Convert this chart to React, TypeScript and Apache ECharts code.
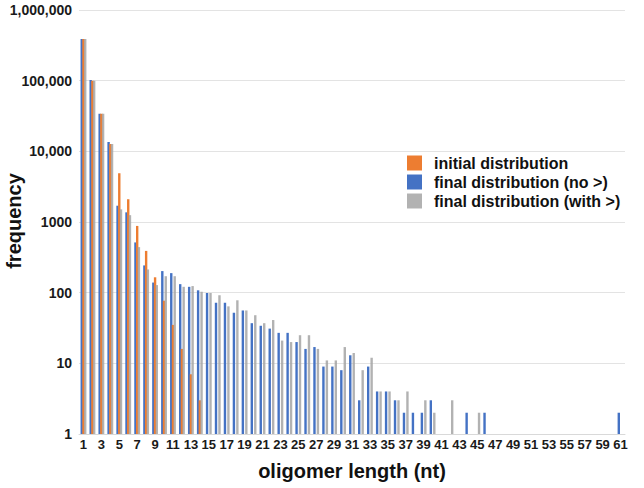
import React, { useEffect, useRef } from "react";
import * as echarts from "echarts";

const categories: string[] = Array.from({ length: 61 }, (_, i) => String(i + 1));

// values (null = no bar)
const initialDist: (number | null)[] = [
  390000, 100000, 34000, 12700, 4900, 2100, 880, 390, 165, 77,
  35, 16, 7, 3, null, null, null, null, null, null,
  null, null, null, null, null, null, null, null, null, null,
  null, null, null, null, null, null, null, null, null, null,
  null, null, null, null, null, null, null, null, null, null,
  null, null, null, null, null, null, null, null, null, null,
  null,
];

const finalNo: (number | null)[] = [
  390000, 102000, 34000, 13500, 1700, 1370, 514, 243, 139, 202,
  189, 132, 121, 108, 99, 72, 72, 52, 56, 37,
  34, 31, 27, 27, 20, 16, 17, 9, 9, 8,
  13, 3, 9, 4, 4, 3, 2, 2, 2, 3,
  null, null, null, 2, null, 2, null, null, null, null,
  null, null, null, null, null, null, null, null, null, null,
  2,
];

const finalWith: (number | null)[] = [
  390000, 100000, 34000, 12700, 1510, 1250, 441, 213, 128, 171,
  171, 121, 124, 103, 99, 92, 64, 78, 56, 48,
  37, 41, 21, 20, 25, 25, 16, 11, 11, 17,
  14, 8, 12, 4, 4, 3, 4, null, 3, 2,
  null, 3, null, null, 2, null, null, null, null, null,
  null, null, null, null, null, null, null, null, null, null,
  null,
];

const yTicks: number[] = [1, 10, 100, 1000, 10000, 100000, 1000000];

const FONT = "'Liberation Sans', Arial, Helvetica, sans-serif";

export default function App() {
  const ref = useRef<HTMLDivElement>(null);
  useEffect(() => {
    if (!ref.current) return;
    const chart = echarts.init(ref.current, null, { renderer: "svg" });
    const fmt = (v: number) => {
      const r = Math.round(v);
      if (r >= 10000) return r.toString().replace(/\B(?=(\d{3})+(?!\d))/g, ",");
      return String(r);
    };
    chart.setOption({
      animation: false,
      backgroundColor: "#ffffff",
      textStyle: { fontFamily: FONT },
      grid: { left: 79, right: 19, top: 10, bottom: 54, containLabel: false, outerBoundsMode: "none" },
      legend: {
        orient: "vertical",
        left: 407,
        top: 155,
        itemWidth: 15,
        itemHeight: 15,
        itemGap: 3,
        padding: 0,
        icon: "rect",
        data: ["initial distribution", "final distribution (no >)", "final distribution (with >)"],
        textStyle: { fontFamily: FONT, fontSize: 16, fontWeight: "bold", color: "#111", padding: [0, 0, 0, 7] },
      },
      graphic: [
        {
          type: "text",
          x: 14,
          y: 221,
          rotation: Math.PI / 2,
          style: {
            text: "frequency",
            font: `bold 20px ${FONT}`,
            fill: "#111",
            textAlign: "center",
            textVerticalAlign: "middle",
          },
        },
      ],
      xAxis: {
        type: "category",
        data: categories,
        name: "oligomer length (nt)",
        nameLocation: "middle",
        nameGap: 27,
        nameTextStyle: { fontFamily: FONT, fontSize: 20, fontWeight: "bold", color: "#111" },
        axisTick: { show: false },
        axisLine: { lineStyle: { color: "#d9d9d9", width: 1 } },
        axisLabel: { interval: 1, fontFamily: FONT, fontSize: 13, fontWeight: "bold", color: "#1a1a1a", margin: 4 },
      },
      yAxis: {
        type: "log",
        logBase: 10,
        min: yTicks[0],
        max: yTicks[yTicks.length - 1],
        axisLine: { show: false },
        axisTick: { show: false },
        splitLine: { lineStyle: { color: "#e3e3e3", width: 1 } },
        axisLabel: { formatter: fmt, fontFamily: FONT, fontSize: 14, fontWeight: "bold", color: "#1a1a1a", margin: 7 },
      },
      series: [
        {
          name: "final distribution (no >)",
          type: "bar",
          data: finalNo,
          barWidth: 2.4,
          barGap: "-28%",
          itemStyle: { color: "#4472C4" },
        },
        {
          name: "initial distribution",
          type: "bar",
          data: initialDist,
          barWidth: 2.4,
          barGap: "-28%",
          itemStyle: { color: "#ED7D31" },
        },
        {
          name: "final distribution (with >)",
          type: "bar",
          data: finalWith,
          barWidth: 2.4,
          barGap: "-28%",
          itemStyle: { color: "#A5A5A5", opacity: 0.85 },
        },
      ],
    });
    return () => chart.dispose();
  }, []);
  return (
    <div
      ref={ref}
      style={{ position: "fixed", left: 0, top: 0, width: 644, height: 488, background: "#fff" }}
    />
  );
}
